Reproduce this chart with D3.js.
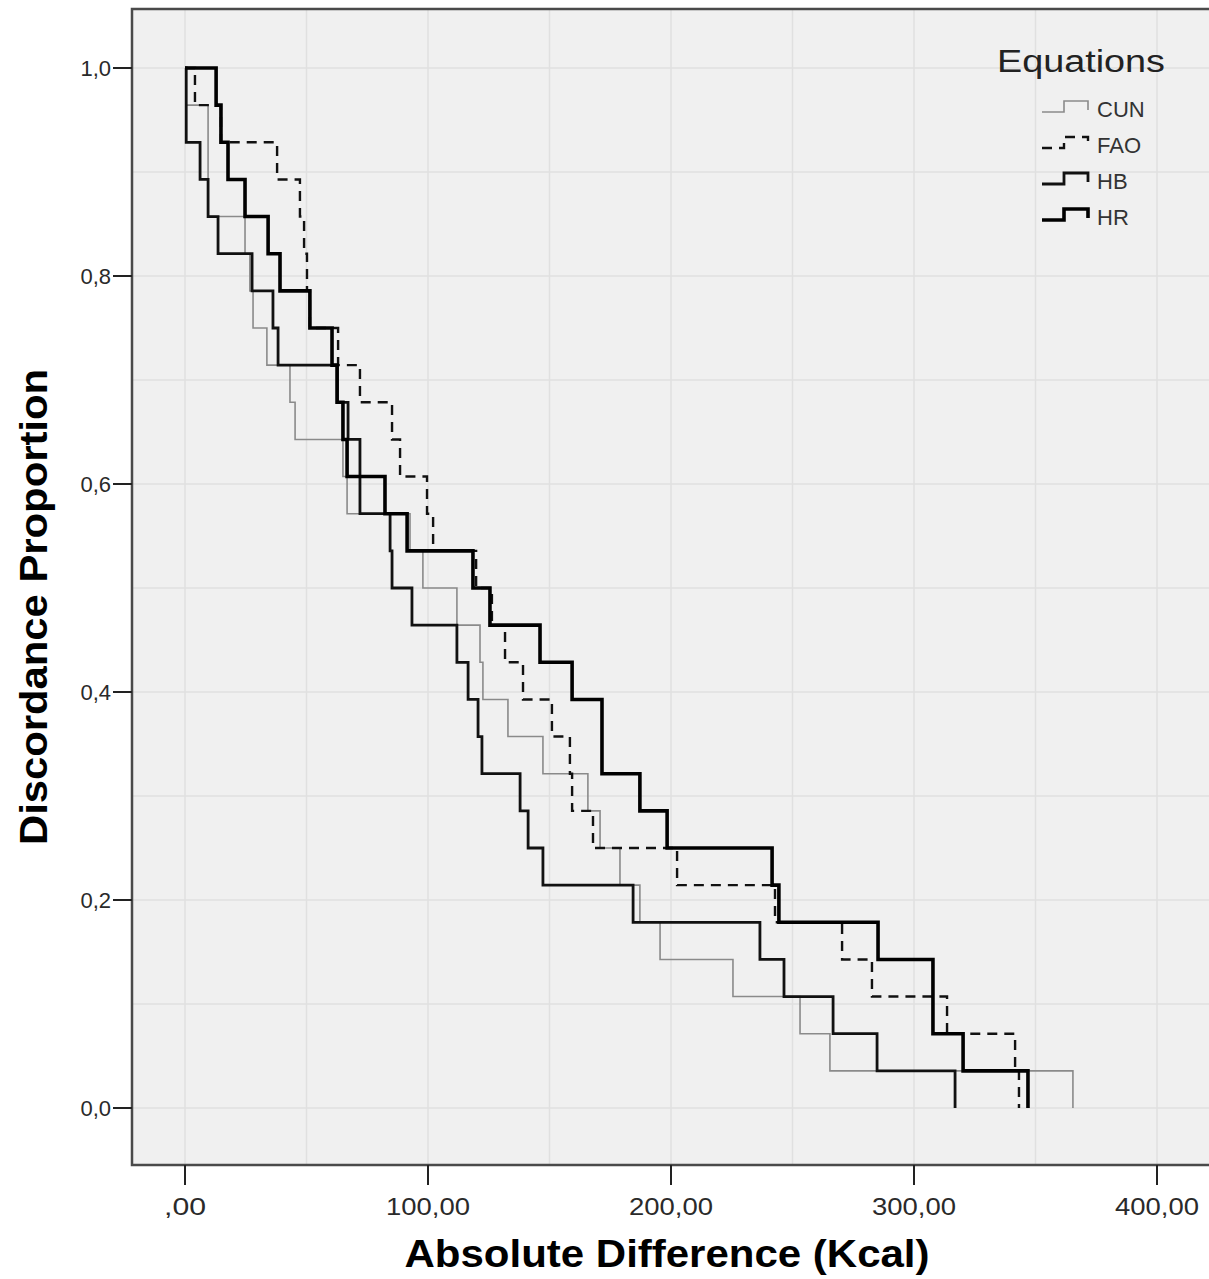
<!DOCTYPE html>
<html>
<head>
<meta charset="utf-8">
<script src="https://cdn.jsdelivr.net/npm/d3@7"></script>
<style>
	body { margin: 0; background: #ffffff; }
	text { font-family: "Liberation Sans", Arial, sans-serif; }
</style>
</head>
<body>
<script>

// absolute differences (kcal) where each curve steps down by 1/28
var N_SUBJECTS = 28;

var cun = [0.5, 9.5, 9.5, 9.5, 24.7, 26.7, 28.0, 33.7, 43.2, 45.3,
	65.0, 66.7, 92.6, 97.9, 111.9, 121.4, 122.6, 132.9, 147.3, 165.8,
	170.8, 179.0, 187.2, 195.5, 225.5, 253.1, 265.4, 365.4];

var fao = [4.1, 14.8, 37.9, 47.3, 49.0, 50.2, 51.4, 63.0, 72.0, 85.2,
	88.5, 99.6, 102.1, 119.8, 126.3, 131.7, 139.1, 151.0, 158.4, 159.3,
	167.9, 202.5, 242.8, 270.4, 282.7, 313.6, 341.6, 343.2];

var hb = [0.5, 0.5, 6.2, 9.5, 13.6, 27.6, 36.2, 38.3, 62.6, 67.1,
	72.0, 72.0, 84.4, 85.2, 93.4, 111.9, 116.5, 120.6, 122.2, 137.9,
	141.2, 147.3, 184.4, 236.6, 246.5, 266.7, 284.8, 316.9];

var hr = [12.8, 14.8, 17.7, 24.7, 34.2, 39.1, 51.4, 60.5, 62.6, 65.0,
	66.7, 82.3, 91.4, 118.5, 125.5, 146.1, 159.3, 171.6, 171.6, 187.2,
	198.4, 241.6, 244.4, 285.2, 307.8, 307.8, 320.2, 346.9];

var series_names = ["CUN", "FAO", "HB", "HR"];
var series_values = [cun, fao, hb, hr];

var x_ticks = [0, 100, 200, 300, 400];
var x_tick_labels = [",00", "100,00", "200,00", "300,00", "400,00"];
var y_ticks = [0, 0.2, 0.4, 0.6, 0.8, 1.0];
var y_tick_labels = ["0,0", "0,2", "0,4", "0,6", "0,8", "1,0"];

var styles = {
	CUN: {stroke: "#8a8a8a", width: 1.6, dash: null},
	FAO: {stroke: "#111111", width: 2.4, dash: "10,7"},
	HB:  {stroke: "#111111", width: 2.8, dash: null},
	HR:  {stroke: "#000000", width: 3.6, dash: null}
};

var width = 1209,
	height = 1279;

var frame = {left: 132, top: 9, right: 1216, bottom: 1165};

var x = d3.scaleLinear().domain([0, 400]).range([185, 1157]);
var y = d3.scaleLinear().domain([0, 1]).range([1108, 68]);

var svg = d3.select("body").append("svg")
	.attr("width", width)
	.attr("height", height);

// plot background
svg.append("rect")
	.attr("x", frame.left)
	.attr("y", frame.top)
	.attr("width", frame.right - frame.left)
	.attr("height", frame.bottom - frame.top)
	.attr("fill", "#f0f0f0");

// grid lines (major + minor)
var grid = svg.append("g").attr("stroke", "#e0e0e0").attr("stroke-width", 1.5);

grid.selectAll("line.gx")
	.data(d3.range(0, 401, 50))
	.enter().append("line")
	.attr("x1", function(d) { return x(d); })
	.attr("x2", function(d) { return x(d); })
	.attr("y1", frame.top)
	.attr("y2", frame.bottom);

grid.selectAll("line.gy")
	.data(d3.range(0, 11).map(function(i) { return i / 10; }))
	.enter().append("line")
	.attr("y1", function(d) { return y(d); })
	.attr("y2", function(d) { return y(d); })
	.attr("x1", frame.left)
	.attr("x2", frame.right);

// step curves
var line = d3.line()
	.curve(d3.curveStepAfter)
	.x(function(d) { return x(d[0]); })
	.y(function(d) { return y(d[1]); });

function steps(values) {
	var pts = [[0, 1]];
	values.forEach(function(v, i) {
		pts.push([v, 1 - (i + 1) / N_SUBJECTS]);
	});
	return pts;
}

series_names.forEach(function(name, i) {
	var s = styles[name];
	svg.append("path")
		.datum(steps(series_values[i]))
		.attr("fill", "none")
		.attr("stroke", s.stroke)
		.attr("stroke-width", s.width)
		.attr("stroke-dasharray", s.dash)
		.attr("stroke-linejoin", "miter")
		.attr("d", line);
});

// frame
svg.append("rect")
	.attr("x", frame.left)
	.attr("y", frame.top)
	.attr("width", frame.right - frame.left)
	.attr("height", frame.bottom - frame.top)
	.attr("fill", "none")
	.attr("stroke", "#4a4a4a")
	.attr("stroke-width", 2.5);

// y axis ticks + labels
var y_axis = svg.append("g");
y_axis.selectAll("line")
	.data(y_ticks)
	.enter().append("line")
	.attr("x1", 113)
	.attr("x2", frame.left)
	.attr("y1", function(d) { return y(d); })
	.attr("y2", function(d) { return y(d); })
	.attr("stroke", "#222")
	.attr("stroke-width", 2);

y_axis.selectAll("text")
	.data(y_ticks)
	.enter().append("text")
	.attr("x", 111)
	.attr("y", function(d) { return y(d) + 8; })
	.attr("text-anchor", "end")
	.attr("font-size", 22)
	.attr("fill", "#2a2a2a")
	.text(function(d, i) { return y_tick_labels[i]; });

// x axis ticks + labels
var x_axis = svg.append("g");
x_axis.selectAll("line")
	.data(x_ticks)
	.enter().append("line")
	.attr("x1", function(d) { return x(d); })
	.attr("x2", function(d) { return x(d); })
	.attr("y1", frame.bottom)
	.attr("y2", 1185)
	.attr("stroke", "#222")
	.attr("stroke-width", 2);

x_axis.selectAll("text")
	.data(x_ticks)
	.enter().append("text")
	.attr("x", function(d) { return x(d); })
	.attr("y", 1215)
	.attr("text-anchor", "middle")
	.attr("font-size", 24)
	.attr("fill", "#2a2a2a")
	.attr("textLength", function(d, i) { return i == 0 ? 42 : 84; })
	.attr("lengthAdjust", "spacingAndGlyphs")
	.text(function(d, i) { return x_tick_labels[i]; });

// axis titles
svg.append("text")
	.attr("x", 667)
	.attr("y", 1267)
	.attr("text-anchor", "middle")
	.attr("font-size", 38)
	.attr("font-weight", "bold")
	.attr("fill", "#000")
	.attr("textLength", 525)
	.attr("lengthAdjust", "spacingAndGlyphs")
	.text("Absolute Difference (Kcal)");

svg.append("text")
	.attr("transform", "translate(47,607) rotate(-90)")
	.attr("text-anchor", "middle")
	.attr("font-size", 38)
	.attr("font-weight", "bold")
	.attr("fill", "#000")
	.attr("textLength", 476)
	.attr("lengthAdjust", "spacingAndGlyphs")
	.text("Discordance Proportion");

// legend
var legend = svg.append("g");

legend.append("text")
	.attr("x", 997)
	.attr("y", 72)
	.attr("font-size", 31)
	.attr("fill", "#222")
	.attr("textLength", 168)
	.attr("lengthAdjust", "spacingAndGlyphs")
	.text("Equations");

var legend_line = d3.line();

var item = legend.selectAll("g.item")
	.data(series_names)
	.enter().append("g")
	.attr("transform", function(d, i) { return "translate(0," + (112 + i * 36) + ")"; });

item.append("path")
	.attr("fill", "none")
	.attr("stroke", function(d) { return styles[d].stroke; })
	.attr("stroke-width", function(d) { return styles[d].width; })
	.attr("stroke-dasharray", function(d) { return styles[d].dash; })
	.attr("d", legend_line([[1042, 0], [1064, 0], [1064, -11], [1088, -11], [1088, -2]]));

item.append("text")
	.attr("x", 1097)
	.attr("y", 5)
	.attr("font-size", 22)
	.attr("fill", "#333")
	.text(function(d) { return d; });

</script>
</body>
</html>
